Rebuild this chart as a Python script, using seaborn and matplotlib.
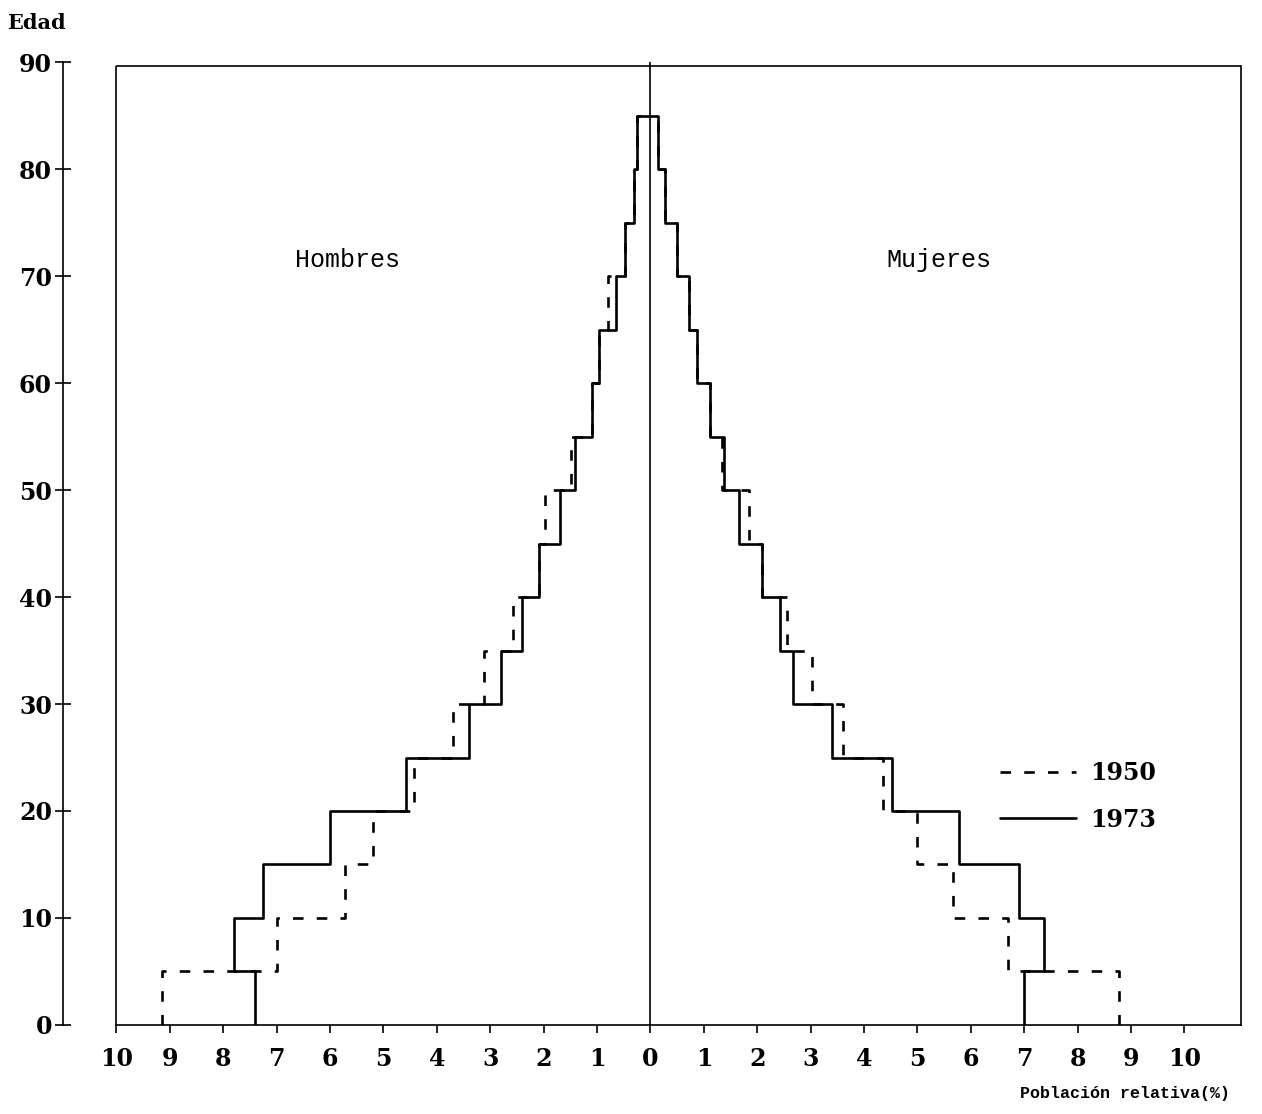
import numpy as np
import pandas as pd
import seaborn as sns
import matplotlib.pyplot as plt
from matplotlib.lines import Line2D

# Age groups (lower bound of each 5-year group)
edades = [0, 5, 10, 15, 20, 25, 30, 35, 40, 45, 50, 55, 60, 65, 70, 75, 80]

# Percent of population by group
hombres_1950 = [9.15, 7.0, 5.72, 5.2, 4.43, 3.69, 3.11, 2.57, 2.08, 1.97, 1.49, 1.1, 0.97, 0.79, 0.47, 0.31, 0.25]
hombres_1973 = [7.4, 7.8, 7.26, 6.0, 4.58, 3.39, 2.8, 2.41, 2.08, 1.69, 1.42, 1.1, 0.97, 0.64, 0.47, 0.31, 0.25]
mujeres_1950 = [8.78, 6.69, 5.66, 5.0, 4.35, 3.6, 3.02, 2.55, 2.08, 1.84, 1.33, 1.11, 0.88, 0.72, 0.49, 0.28, 0.15]
mujeres_1973 = [7.0, 7.37, 6.9, 5.78, 4.53, 3.39, 2.66, 2.43, 2.08, 1.65, 1.37, 1.11, 0.88, 0.72, 0.49, 0.28, 0.15]

xticks = list(range(-10, 11))
yticks = list(range(0, 91, 10))


def escalones(valores, signo, serie, anio):
    # vertical segment for every age group, joined by horizontals at group limits
    filas = []
    for e, v in zip(edades, valores):
        filas.append((signo * v, e, serie, anio))
        filas.append((signo * v, e + 5, serie, anio))
    filas.append((0, edades[-1] + 5, serie, anio))
    return filas


rows = []
rows += escalones(hombres_1950, -1, 'H1950', '1950')
rows += escalones(mujeres_1950, 1, 'M1950', '1950')
rows += escalones(hombres_1973, -1, 'H1973', '1973')
rows += escalones(mujeres_1973, 1, 'M1973', '1973')
df = pd.DataFrame(rows, columns=['x', 'edad', 'serie', 'anio'])

sns.set_style('ticks')
plt.rcParams['font.family'] = ['DejaVu Serif']
plt.rcParams['text.color'] = 'black'
plt.rcParams['xtick.color'] = 'black'
plt.rcParams['ytick.color'] = 'black'
plt.rcParams['axes.edgecolor'] = 'black'

fig = plt.figure(figsize=(12.62, 11.14), dpi=100)
ax = fig.add_axes([0.050, 0.080, 0.933, 0.864])

sns.lineplot(data=df, x='x', y='edad', units='serie', style='anio',
             estimator=None, sort=False, color='black', linewidth=1.9,
             dashes={'1950': (4, 5), '1973': ''}, legend=False, ax=ax)

# frame and centre line
ax.axvline(0, color='black', lw=1.2)
ax.vlines(-10, 0, 89.7, color='black', lw=1.2)
ax.hlines(89.7, -10, 11.05, color='black', lw=1.2)

ax.set_xlim(-11, 11.05)
ax.set_ylim(0, 90)
ax.spines['top'].set_visible(False)
for s in ['right', 'left', 'bottom']:
    ax.spines[s].set_linewidth(1.2)
ax.spines['bottom'].set_bounds(-10, 11.05)
ax.spines['right'].set_bounds(0, 89.7)

ax.set_xticks(xticks)
ax.set_xticklabels([str(abs(t)) for t in xticks], fontsize=17, fontweight='bold')
ax.set_yticks(yticks)
ax.set_yticklabels([str(t) for t in yticks], fontsize=17, fontweight='bold')
ax.tick_params(axis='y', direction='inout', length=12, width=1.2, pad=2)
ax.tick_params(axis='x', direction='out', length=6, width=1.2, pad=10)
ax.set_xlabel('')
ax.set_ylabel('')

ax.text(-5.67, 71.5, 'Hombres', ha='center', va='center', fontsize=18, family='Liberation Mono')
ax.text(5.4, 71.5, 'Mujeres', ha='center', va='center', fontsize=18, family='Liberation Mono')
fig.text(0.006, 0.988, 'Edad', ha='left', va='top', fontsize=15, fontweight='bold')
fig.text(0.975, 0.012, 'Población relativa(%)', ha='right', va='bottom', fontsize=12,
         fontweight='bold', family='Liberation Mono')

handles = [Line2D([], [], color='black', lw=1.9, linestyle=(0, (4, 5))),
           Line2D([], [], color='black', lw=1.9)]
ax.legend(handles, ['1950', '1973'], loc='upper left', bbox_to_anchor=(0.796, 0.274),
          frameon=False, handlelength=3.2, handletextpad=0.6, labelspacing=0.95,
          borderpad=0, borderaxespad=0, prop={'size': 17, 'weight': 'bold'})

fig.savefig('out.png', dpi=100)
